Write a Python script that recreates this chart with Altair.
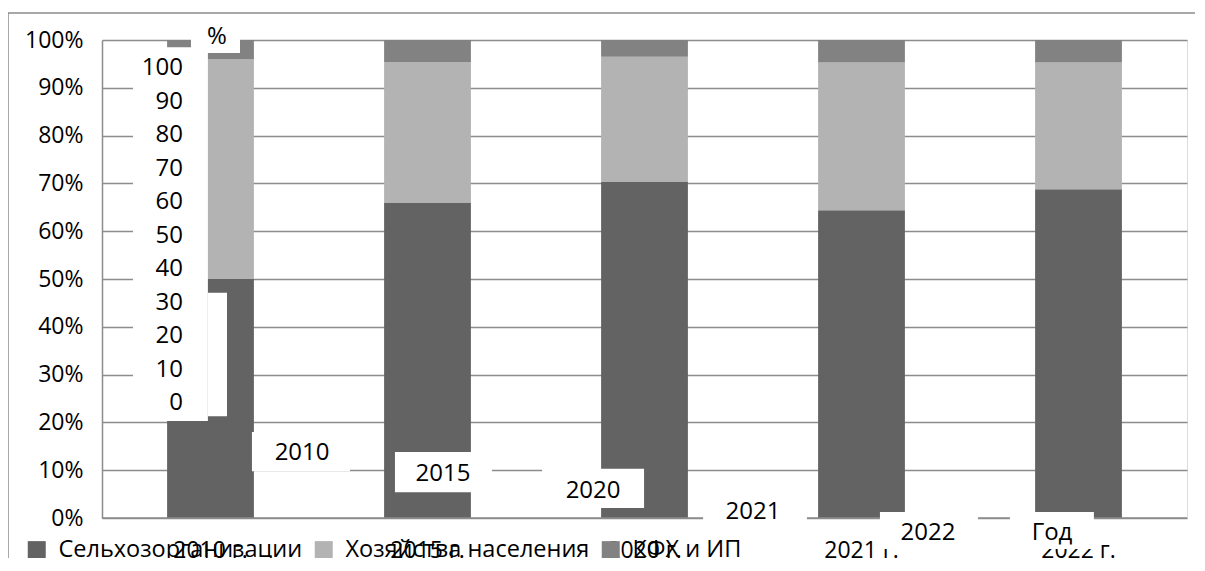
import altair as alt
import pandas as pd

# ---------------- data ----------------
years = ["2010 г.", "2015 г.", "2020 г.", "2021 г.", "2022 г."]
series_names = ["Сельхозорганизации", "Хозяйства населения", "КФХ и ИП"]
agri_orgs = [50.0, 66.0, 70.4, 64.4, 68.8]
households = [46.0, 29.4, 26.1, 30.9, 26.5]
farms_ip = [4.0, 4.6, 3.5, 4.7, 4.7]
y_ticks = [0, 10, 20, 30, 40, 50, 60, 70, 80, 90, 100]

# ghost (overprinted) axis texts from the scanned source
ghost_numbers = [100, 90, 80, 70, 60, 50, 40, 30, 20, 10, 0]
ghost_unit = "%"
ghost_years = ["2010", "2015", "2020", "2021", "2022", "Год"]

# ---------------- annotation placement (band units / percent units) ----------------
ghost_year_x = [0.922, 1.571, 2.263, 3.0, 3.806, 4.378]
ghost_year_y = [13.6, 9.2, 5.6, 1.3, -3.1, -3.1]
unit_pos = (0.530, 100.6)
numbers_x = 0.373
box_x1 = [0.410, 0.143, 0.488, 0.691, 1.350, 2.028, 2.770, 3.585, 4.184]
box_x2 = [0.636, 0.488, 0.576, 1.143, 1.797, 2.498, 3.249, 4.037, 4.571]
box_y1 = [104.6, 98.5, 47.1, 18.0, 13.8, 10.3, 3.8, 1.26, 1.26]
box_y2 = [97.3, 20.3, 21.3, 9.8, 5.4, 2.1, -3.0, -6.5, -6.5]

colors = ["#636363", "#b3b3b3", "#828282"]
FONT = "Open Sans"
FS = 24
LFS = 23.5
AFS = 23

rows = []
for i, yr in enumerate(years):
    for k, (name, vals) in enumerate(zip(series_names, [agri_orgs, households, farms_ip])):
        rows.append({"year": yr, "series": name, "value": vals[i], "order": k})
df = pd.DataFrame(rows)

W, H = 1085, 478

bars = alt.Chart(df).mark_bar(size=86.8).encode(
    x=alt.X("year:N", sort=years,
            scale=alt.Scale(paddingInner=0.6, paddingOuter=0.3),
            axis=alt.Axis(title=None, labelAngle=0, ticks=False, domain=False,
                          labelFont=FONT, labelFontSize=AFS, labelColor="#000000",
                          labelPadding=32, labelBaseline="middle")),
    y=alt.Y("value:Q", stack="zero",
            scale=alt.Scale(domain=[0, 100], nice=False),
            axis=alt.Axis(title=None, values=y_ticks, labelExpr="datum.value + '%'",
                          ticks=False, domain=True, domainColor="#8c8c8c", domainWidth=1.5,
                          grid=True, gridColor="#8c8c8c", gridWidth=1.5,
                          labelFont=FONT, labelFontSize=AFS, labelColor="#000000",
                          labelPadding=19)),
    color=alt.Color("series:N", sort=series_names,
                    scale=alt.Scale(domain=series_names, range=colors),
                    legend=alt.Legend(title=None, orient="none", direction="horizontal",
                                      legendX=-77, legendY=498,
                                      symbolType="square", symbolSize=324,
                                      symbolStrokeWidth=0, labelFont=FONT,
                                      labelFontSize=LFS, labelColor="#000000",
                                      labelLimit=600,
                                      labelOffset=10, columnPadding=9, padding=0)),
    order=alt.Order("order:Q", sort="ascending"),
)

# baseline (0%) line
base_df = pd.DataFrame({"v": [0]})
baseline = alt.Chart(base_df).mark_rule(color="#8c8c8c", strokeWidth=1.5).encode(
    y=alt.Y("v:Q", scale=alt.Scale(domain=[0, 100], nice=False), axis=None),
)

# white cover boxes
box_df = pd.DataFrame({"x1": box_x1, "x2": box_x2, "y1": box_y1, "y2": box_y2})
xs = alt.Scale(domain=[0, 5], nice=False, zero=False)
ys = alt.Scale(domain=[0, 100], nice=False, zero=False)
boxes = alt.Chart(box_df).mark_rect(color="#ffffff", clip=False).encode(
    x=alt.X("x1:Q", scale=xs, axis=None), x2="x2:Q",
    y=alt.Y("y1:Q", scale=ys, axis=None), y2="y2:Q",
)

# ghost year labels + unit
gy_df = pd.DataFrame({"t": ghost_years + [ghost_unit],
                      "x": ghost_year_x + [unit_pos[0]],
                      "y": ghost_year_y + [unit_pos[1]]})
ghost_years_layer = alt.Chart(gy_df).mark_text(font=FONT, fontSize=FS, color="#000000",
                                               align="center", baseline="middle").encode(
    x=alt.X("x:Q", scale=xs, axis=None),
    y=alt.Y("y:Q", scale=ys, axis=None),
    text="t:N",
)

# ghost numeric axis (0..100) — its own scale
gn_df = pd.DataFrame({"n": ghost_numbers, "x": [numbers_x] * len(ghost_numbers)})
ghost_numbers_layer = alt.Chart(gn_df).mark_text(font=FONT, fontSize=FS, color="#000000",
                                                 align="right", baseline="middle").encode(
    x=alt.X("x:Q", scale=xs, axis=None),
    y=alt.Y("n:Q", scale=alt.Scale(domain=[-34.3, 108.4], nice=False, zero=False), axis=None),
    text="n:Q",
)

# outer frame
frame = alt.Chart(base_df).mark_rect(fill=None, stroke="#8c8c8c", strokeWidth=1.5, clip=False).encode(
    x=alt.value(-94), x2=alt.value(1110), y=alt.value(-27), y2=alt.value(560)
)

chart = alt.layer(frame, bars, baseline, boxes, ghost_years_layer, ghost_numbers_layer).resolve_scale(
    x="independent", y="independent"
).properties(
    width=W, height=H,
    autosize=alt.AutoSizeParams(type="none"),
    padding={"left": 94, "top": 32, "right": 8, "bottom": 40},
).configure_view(stroke=None).configure(background="#ffffff")

chart.save("out.html", embed_options={"renderer": "svg", "actions": False})
